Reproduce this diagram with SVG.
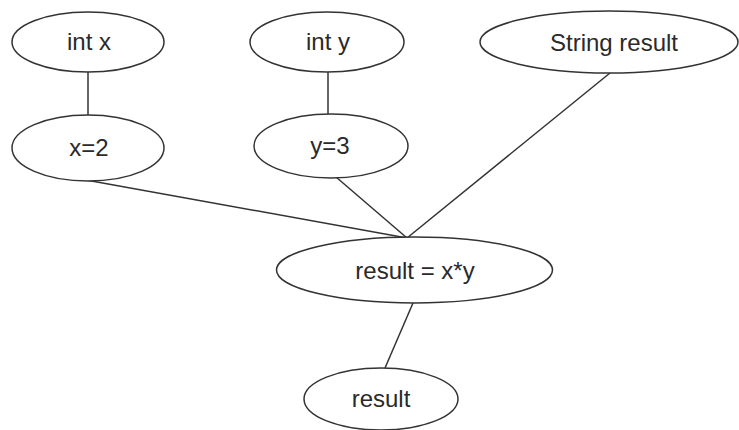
<svg xmlns="http://www.w3.org/2000/svg" width="739" height="430" viewBox="0 0 739 430">
<style>
.n ellipse{fill:#fff;stroke:#333;stroke-width:1.5}
.n text{font-family:"Liberation Sans",Arial,sans-serif;font-size:24px;fill:#2a2a2a;text-anchor:middle}
#edges line{stroke:#333;stroke-width:1.5}
</style>
<rect width="739" height="430" fill="#fff"/>
<g id="edges">
<line x1="88" y1="72" x2="88" y2="115"/>
<line x1="328" y1="72" x2="328" y2="114"/>
<line x1="86" y1="180" x2="407" y2="238"/>
<line x1="336" y1="177" x2="407" y2="238"/>
<line x1="610" y1="73" x2="407" y2="238"/>
<line x1="413" y1="303" x2="385" y2="368"/>
</g>
<g id="intx" class="n"><ellipse cx="88" cy="42" rx="76" ry="30"/><text x="89" y="50">int x</text></g>
<g id="inty" class="n"><ellipse cx="327" cy="42" rx="77" ry="30"/><text x="328" y="50">int y</text></g>
<g id="strres" class="n"><ellipse cx="609" cy="42" rx="129" ry="31"/><text x="614" y="51">String result</text></g>
<g id="x2" class="n"><ellipse cx="88" cy="148" rx="76" ry="33"/><text x="89" y="156">x=2</text></g>
<g id="y3" class="n"><ellipse cx="331" cy="146" rx="77" ry="32"/><text x="330" y="154">y=3</text></g>
<g id="calc" class="n"><ellipse cx="414.5" cy="270" rx="138" ry="33"/><text x="415" y="279">result = x*y</text></g>
<g id="res" class="n"><ellipse cx="381" cy="399" rx="77" ry="31"/><text x="381" y="407">result</text></g>
</svg>
